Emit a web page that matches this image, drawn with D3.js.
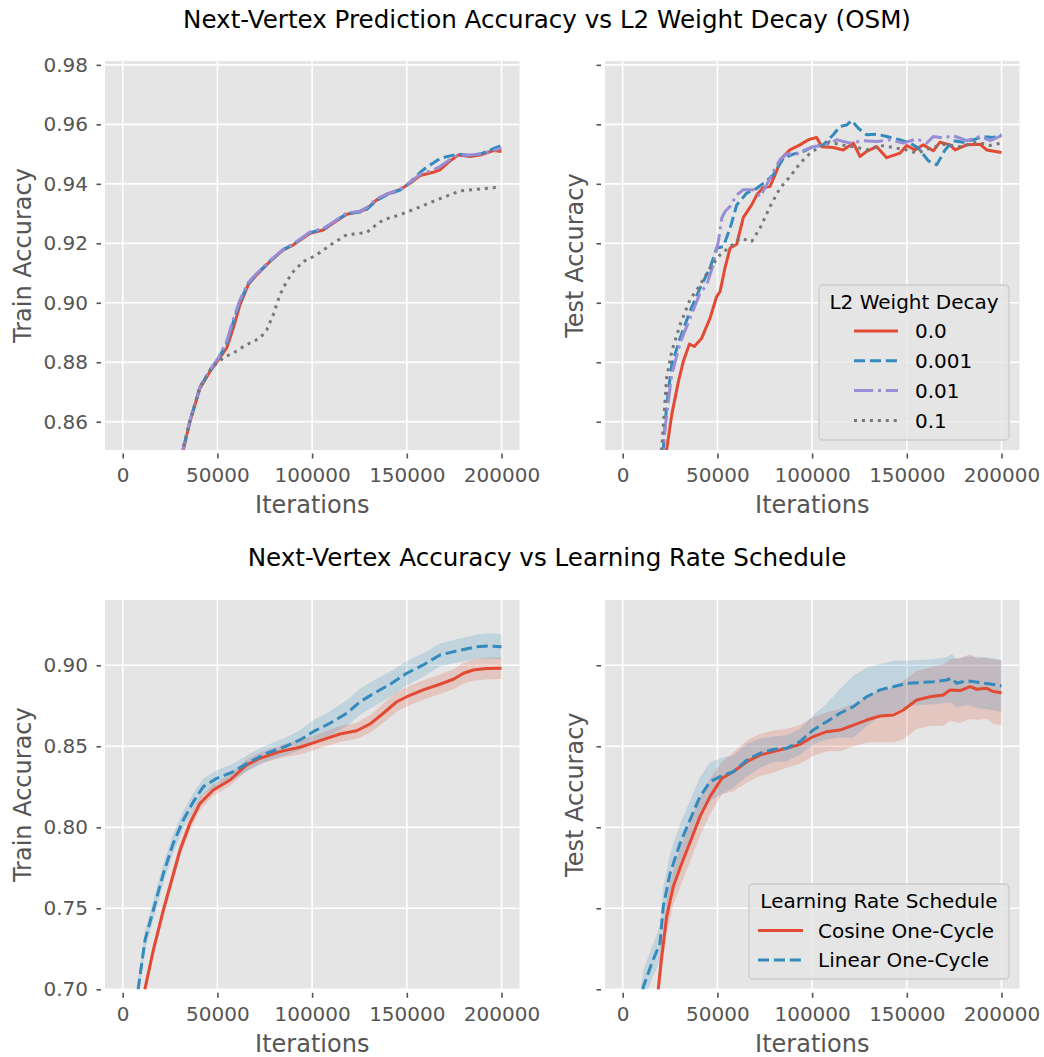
<!DOCTYPE html>
<html>
<head>
<meta charset="utf-8">
<script src="https://cdn.jsdelivr.net/npm/d3@7"></script>
<style>
  body { margin: 0; background: #fff; }
  svg { display: block; font-family: "DejaVu Sans", sans-serif; }
</style>
</head>
<body>
<svg id="chart" width="1044" height="1057"></svg>
<script>
// ---------- data ----------
const xTickValues = [0, 50000, 100000, 150000, 200000];
const topYTicks = [0.86, 0.88, 0.90, 0.92, 0.94, 0.96, 0.98];
const bottomYTicks = [0.70, 0.75, 0.80, 0.85, 0.90];

const weightDecayLabels = ["0.0", "0.001", "0.01", "0.1"];
const scheduleLabels = ["Cosine One-Cycle", "Linear One-Cycle"];

// Train accuracy per L2 weight decay: [iteration, accuracy]
const trainWd0 = [[30500,0.8460],[32000,0.8506],[35500,0.8600],[40800,0.8713],[46100,0.8769],[50500,0.8808],[54900,0.8848],[58400,0.8915],[61900,0.8993],[66300,0.9061],[70700,0.9094],[77800,0.9139],[84800,0.9178],[90100,0.9195],[98900,0.9234],[105900,0.9245],[111200,0.9268],[118300,0.9298],[125300,0.9307],[128800,0.9316],[134100,0.9346],[139400,0.9365],[146400,0.9380],[151700,0.9402],[157000,0.9428],[164000,0.9439],[167500,0.9447],[172800,0.9477],[177200,0.9497],[183400,0.9492],[188700,0.9497],[195700,0.9512],[200000,0.9509]];
const trainWd001 = [[30500,0.8465],[32000,0.8510],[35500,0.8602],[40800,0.8716],[46100,0.8772],[50500,0.8812],[54900,0.8862],[58400,0.8935],[61900,0.9003],[66300,0.9064],[70700,0.9096],[77800,0.9140],[84800,0.9179],[90100,0.9197],[98900,0.9236],[105900,0.9247],[111200,0.9270],[118300,0.9300],[125300,0.9305],[128800,0.9314],[134100,0.9344],[139400,0.9363],[146400,0.9379],[151700,0.9405],[157000,0.9438],[160500,0.9456],[164000,0.9470],[167500,0.9485],[172800,0.9494],[177200,0.9500],[183400,0.9495],[188700,0.9500],[195700,0.9518],[200000,0.9529]];
const trainWd01 = [[30500,0.8470],[32000,0.8515],[35500,0.8605],[40800,0.8718],[46100,0.8775],[50500,0.8815],[54900,0.8870],[58400,0.8945],[61900,0.9010],[66300,0.9068],[70700,0.9098],[77800,0.9142],[84800,0.9180],[90100,0.9198],[98900,0.9238],[105900,0.9250],[111200,0.9272],[118300,0.9302],[125300,0.9308],[128800,0.9320],[134100,0.9350],[139400,0.9365],[146400,0.9382],[151700,0.9405],[157000,0.9432],[164000,0.9447],[167500,0.9458],[172800,0.9482],[177200,0.9497],[183400,0.9497],[188700,0.9500],[195700,0.9512],[200000,0.9520]];
const trainWd1 = [[30500,0.8465],[32000,0.8510],[35500,0.8602],[40800,0.8716],[46100,0.8772],[50000,0.8800],[54000,0.8818],[58400,0.8831],[63000,0.8850],[67200,0.8865],[72500,0.8881],[76000,0.8909],[79500,0.8960],[83000,0.9027],[86600,0.9072],[90100,0.9105],[95400,0.9139],[102400,0.9161],[106500,0.9180],[111200,0.9201],[118300,0.9229],[123000,0.9232],[128800,0.9236],[133000,0.9258],[137600,0.9279],[146400,0.9296],[155200,0.9318],[164000,0.9341],[172800,0.9363],[178100,0.9376],[184300,0.9380],[191000,0.9384],[199300,0.9389]];

// Test accuracy per L2 weight decay: [iteration, accuracy]
const testWd0 = [[22400,0.8450],[23200,0.8506],[25900,0.8624],[29400,0.8735],[32000,0.8803],[35200,0.8861],[37800,0.8853],[41700,0.8881],[46100,0.8948],[49600,0.9021],[51400,0.9038],[54000,0.9117],[56700,0.9184],[60200,0.9197],[63700,0.9287],[68100,0.9329],[70800,0.9363],[74200,0.9388],[77800,0.9391],[80400,0.9430],[83900,0.9486],[88300,0.9514],[93600,0.9531],[98000,0.9548],[102400,0.9556],[105100,0.9525],[111200,0.9522],[116500,0.9514],[121800,0.9537],[125300,0.9492],[128800,0.9509],[134100,0.9525],[139400,0.9488],[146400,0.9503],[149900,0.9529],[154300,0.9514],[158700,0.9531],[164000,0.9511],[167500,0.9540],[172800,0.9531],[175500,0.9514],[181600,0.9531],[188700,0.9533],[192200,0.9514],[200000,0.9505]];
const testWd001 = [[20800,0.8450],[21400,0.8506],[23200,0.8657],[25900,0.8792],[30300,0.8881],[35500,0.8971],[40800,0.9049],[46100,0.9117],[49600,0.9184],[53100,0.9189],[56700,0.9251],[60200,0.9329],[65500,0.9369],[70800,0.9385],[76000,0.9410],[79500,0.9430],[84800,0.9486],[90100,0.9500],[95400,0.9509],[100600,0.9525],[105900,0.9531],[111200,0.9565],[114700,0.9593],[118300,0.9598],[120900,0.9613],[124400,0.9587],[128800,0.9565],[134100,0.9567],[139400,0.9559],[146400,0.9548],[151700,0.9537],[156100,0.9520],[161400,0.9477],[165800,0.9464],[170200,0.9514],[174500,0.9545],[179800,0.9540],[185100,0.9548],[190400,0.9559],[195700,0.9556],[200000,0.9565]];
const testWd01 = [[20500,0.8450],[21100,0.8506],[23200,0.8624],[25900,0.8759],[30300,0.8864],[35500,0.8948],[40800,0.9032],[44400,0.9061],[47800,0.9128],[50500,0.9206],[52300,0.9285],[54000,0.9307],[56700,0.9324],[60200,0.9363],[63700,0.9380],[69000,0.9380],[72500,0.9357],[76000,0.9397],[79500,0.9441],[83000,0.9481],[86600,0.9500],[91800,0.9500],[96300,0.9514],[100600,0.9525],[107600,0.9531],[113000,0.9548],[120000,0.9537],[127100,0.9545],[134100,0.9542],[141100,0.9548],[148100,0.9537],[155200,0.9551],[160500,0.9537],[164000,0.9559],[169300,0.9554],[174500,0.9562],[181600,0.9545],[188700,0.9559],[194000,0.9545],[200000,0.9562]];
const testWd1 = [[20000,0.8450],[20500,0.8506],[23200,0.8748],[25900,0.8837],[30300,0.8926],[35500,0.9010],[40800,0.9060],[46100,0.9117],[51400,0.9161],[56700,0.9189],[62000,0.9217],[68100,0.9206],[72500,0.9251],[77800,0.9324],[83000,0.9385],[88300,0.9424],[93600,0.9469],[98900,0.9503],[104200,0.9525],[109400,0.9542],[114700,0.9531],[121800,0.9525],[128800,0.9514],[135900,0.9529],[142900,0.9522],[149900,0.9514],[155200,0.9503],[162300,0.9520],[169300,0.9533],[178100,0.9525],[186900,0.9540],[193900,0.9529],[200000,0.9537]];

// Learning-rate schedules: [iteration, mean accuracy, spread]
const trainCosine = [[10800,0.6900,0.0040],[11800,0.7006,0.0040],[16200,0.7243,0.0040],[21500,0.7490,0.0045],[25900,0.7675,0.0045],[30300,0.7860,0.0045],[35500,0.8025,0.0045],[40800,0.8148,0.0040],[47800,0.8230,0.0035],[56700,0.8292,0.0035],[65500,0.8385,0.0035],[72500,0.8426,0.0035],[83000,0.8467,0.0040],[93600,0.8494,0.0045],[104200,0.8535,0.0045],[114700,0.8576,0.0050],[123500,0.8596,0.0050],[130700,0.8638,0.0055],[137600,0.8704,0.0060],[144700,0.8775,0.0060],[150000,0.8806,0.0060],[158700,0.8848,0.0060],[167500,0.8883,0.0060],[174600,0.8914,0.0062],[179900,0.8951,0.0065],[185100,0.8971,0.0066],[192200,0.8980,0.0067],[200000,0.8982,0.0067]];
const trainLinear = [[7300,0.6900,0.0060],[8200,0.7006,0.0060],[11800,0.7305,0.0060],[16200,0.7490,0.0060],[21500,0.7716,0.0060],[26700,0.7901,0.0060],[32000,0.8045,0.0055],[37300,0.8158,0.0055],[42600,0.8251,0.0050],[49600,0.8302,0.0050],[58400,0.8343,0.0050],[67200,0.8405,0.0050],[76000,0.8457,0.0050],[86600,0.8502,0.0055],[93600,0.8539,0.0060],[100600,0.8590,0.0070],[109400,0.8642,0.0075],[118300,0.8704,0.0080],[125300,0.8775,0.0080],[134100,0.8837,0.0080],[141200,0.8883,0.0078],[150000,0.8951,0.0075],[158700,0.9002,0.0072],[167500,0.9064,0.0070],[176300,0.9088,0.0072],[186900,0.9115,0.0075],[193900,0.9119,0.0078],[200000,0.9115,0.0078]];
const testCosine = [[18300,0.6900,0.010],[18800,0.7006,0.010],[20600,0.7202,0.010],[23200,0.7449,0.011],[26700,0.7634,0.011],[31200,0.7778,0.012],[36400,0.7932,0.012],[40800,0.8066,0.012],[46100,0.8189,0.011],[52300,0.8302,0.010],[58400,0.8343,0.012],[65500,0.8405,0.013],[72500,0.8446,0.013],[79500,0.8467,0.013],[86600,0.8488,0.012],[93600,0.8512,0.012],[100600,0.8560,0.012],[107700,0.8590,0.012],[114700,0.8600,0.013],[121800,0.8631,0.013],[128800,0.8662,0.014],[135900,0.8687,0.016],[142900,0.8693,0.017],[148200,0.8724,0.018],[155200,0.8786,0.018],[162300,0.8806,0.018],[169300,0.8817,0.019],[172800,0.8848,0.019],[178100,0.8844,0.020],[183400,0.8868,0.020],[186900,0.8852,0.019],[192200,0.8858,0.019],[195700,0.8838,0.020],[200000,0.8831,0.020]];
const testLinear = [[9500,0.6900,0.010],[10900,0.7016,0.010],[15300,0.7160,0.010],[19700,0.7284,0.011],[21400,0.7510,0.012],[25000,0.7716,0.012],[30300,0.7901,0.012],[35500,0.8045,0.012],[40800,0.8189,0.012],[46100,0.8281,0.012],[53100,0.8322,0.011],[58400,0.8343,0.010],[65500,0.8415,0.010],[72500,0.8457,0.009],[79500,0.8481,0.008],[86600,0.8488,0.008],[93600,0.8529,0.008],[100600,0.8601,0.009],[107700,0.8652,0.011],[114700,0.8704,0.015],[121800,0.8745,0.019],[128800,0.8806,0.018],[135900,0.8848,0.016],[142900,0.8868,0.016],[149900,0.8889,0.014],[157000,0.8893,0.014],[164000,0.8899,0.014],[171000,0.8909,0.014],[173700,0.8920,0.015],[176300,0.8889,0.015],[181600,0.8905,0.015],[188700,0.8893,0.016],[194000,0.8885,0.016],[200000,0.8872,0.016]];

// ---------- styles ----------
const RED = "#E24A33", BLUE = "#348ABD", PURPLE = "#988ED5", GRAY = "#777777";
const LW = 3;
const DASH = { solid: null, dashed: "11.1,4.8", dashdot: "19.2,4.8,3,4.8", dotted: "3,4.95" };

const svg = d3.select("#chart");
const defs = svg.append("defs");

const xDomain = [-9350, 209500];
const topYDomain = [0.8505, 0.9813];
const bottomYDomain = [0.70, 0.9403];

function panel(id, x0, x1, y0, y1, yDomain, yTicks, showYLabels, yLabelText, yLabelX) {
  const x = d3.scaleLinear().domain(xDomain).range([x0, x1]);
  const y = d3.scaleLinear().domain(yDomain).range([y1, y0]);
  const g = svg.append("g");

  g.append("rect").attr("x", x0).attr("y", y0).attr("width", x1 - x0).attr("height", y1 - y0)
    .attr("fill", "#E5E5E5");

  // grid
  g.append("g").selectAll("line").data(xTickValues).join("line")
    .attr("x1", d => x(d)).attr("x2", d => x(d)).attr("y1", y0).attr("y2", y1)
    .attr("stroke", "#fff").attr("stroke-width", 1.6);
  g.append("g").selectAll("line").data(yTicks).join("line")
    .attr("x1", x0).attr("x2", x1).attr("y1", d => y(d)).attr("y2", d => y(d))
    .attr("stroke", "#fff").attr("stroke-width", 1.6);

  // axes
  const xAxis = g.append("g").attr("transform", `translate(0,${y1 + 3.5})`)
    .call(d3.axisBottom(x).tickValues(xTickValues).tickFormat(d3.format("d")).tickSize(5).tickPadding(9));
  const yAxis = g.append("g").attr("transform", `translate(${x0 - 4},0)`)
    .call(d3.axisLeft(y).tickValues(yTicks).tickFormat(showYLabels ? d3.format(".2f") : () => "").tickSize(4.5).tickPadding(8.5));
  [xAxis, yAxis].forEach(a => {
    a.select(".domain").remove();
    a.selectAll("line").attr("stroke", "#555").attr("stroke-width", 1.6);
    a.selectAll("text").attr("fill", "#555").style("font-size", "20px").style("font-family", "DejaVu Sans, sans-serif");
  });

  // axis labels
  g.append("text").attr("x", (x0 + x1) / 2).attr("y", y1 + 63).attr("text-anchor", "middle")
    .attr("fill", "#555").style("font-size", "24px").text("Iterations");
  g.append("text").attr("transform", `translate(${yLabelX},${(y0 + y1) / 2}) rotate(-90)`)
    .attr("text-anchor", "middle").attr("fill", "#555").style("font-size", "24px").text(yLabelText);

  defs.append("clipPath").attr("id", id).append("rect")
    .attr("x", x0).attr("y", y0).attr("width", x1 - x0).attr("height", y1 - y0);
  const plot = g.append("g").attr("clip-path", `url(#${id})`);
  return { x, y, plot, g };
}

function drawLine(p, data, color, dash) {
  const line = d3.line().x(d => p.x(d[0])).y(d => p.y(d[1]));
  p.plot.append("path").datum(data).attr("d", line)
    .attr("fill", "none").attr("stroke", color).attr("stroke-width", LW)
    .attr("stroke-linejoin", "round")
    .attr("stroke-dasharray", dash);
}

function drawBand(p, data, color) {
  const area = d3.area().x(d => p.x(d[0])).y0(d => p.y(d[1] - d[2])).y1(d => p.y(d[1] + d[2]));
  p.plot.append("path").datum(data).attr("d", area)
    .attr("fill", color).attr("fill-opacity", 0.2).attr("stroke", "none");
}

function legend(x, y, w, h, title, titleBaseline, entries, handleX0, handleX1, textX, firstBaseline, step) {
  const g = svg.append("g");
  g.append("rect").attr("x", x).attr("y", y).attr("width", w).attr("height", h).attr("rx", 4)
    .attr("fill", "#E5E5E5").attr("fill-opacity", 0.8).attr("stroke", "#CCCCCC").attr("stroke-width", 1.3);
  g.append("text").attr("x", x + w / 2).attr("y", titleBaseline).attr("text-anchor", "middle")
    .attr("fill", "#000").style("font-size", "20px").text(title);
  entries.forEach((e, i) => {
    const b = firstBaseline + i * step;
    g.append("line").attr("x1", handleX0).attr("x2", handleX1).attr("y1", b - 7.3).attr("y2", b - 7.3)
      .attr("stroke", e.color).attr("stroke-width", LW).attr("stroke-dasharray", e.dash);
    g.append("text").attr("x", textX).attr("y", b).attr("fill", "#000").style("font-size", "20px").text(e.label);
  });
}

// ---------- titles ----------
svg.append("text").attr("x", 547).attr("y", 27.5).attr("text-anchor", "middle").attr("fill", "#000")
  .style("font-size", "24.6px").text("Next-Vertex Prediction Accuracy vs L2 Weight Decay (OSM)");
svg.append("text").attr("x", 547).attr("y", 566).attr("text-anchor", "middle").attr("fill", "#000")
  .style("font-size", "24.6px").text("Next-Vertex Accuracy vs Learning Rate Schedule");

// ---------- weight decay panels ----------
const wdStyles = [
  { color: RED, dash: DASH.solid },
  { color: BLUE, dash: DASH.dashed },
  { color: PURPLE, dash: DASH.dashdot },
  { color: GRAY, dash: DASH.dotted }
];

const tl = panel("clipTL", 105, 519.5, 61, 450, topYDomain, topYTicks, true, "Train Accuracy", 30.5);
[trainWd0, trainWd001, trainWd01, trainWd1].forEach((s, i) => drawLine(tl, s, wdStyles[i].color, wdStyles[i].dash));

const tr = panel("clipTR", 605, 1019.5, 61, 450, topYDomain, topYTicks, false, "Test Accuracy", 582.5);
[testWd0, testWd001, testWd01, testWd1].forEach((s, i) => drawLine(tr, s, wdStyles[i].color, wdStyles[i].dash));

legend(819, 285, 190, 155, "L2 Weight Decay", 309.3,
  weightDecayLabels.map((l, i) => ({ label: l, color: wdStyles[i].color, dash: wdStyles[i].dash })),
  854, 898, 915, 338.3, 29.8);

// ---------- learning-rate schedule panels ----------
const schedStyles = [
  { color: RED, dash: DASH.solid },
  { color: BLUE, dash: DASH.dashed }
];

const bl = panel("clipBL", 105, 519.5, 600, 989.3, bottomYDomain, bottomYTicks, true, "Train Accuracy", 30.5);
drawBand(bl, trainCosine, RED);
drawBand(bl, trainLinear, BLUE);
drawLine(bl, trainCosine, RED, DASH.solid);
drawLine(bl, trainLinear, BLUE, DASH.dashed);

const br = panel("clipBR", 605, 1019.5, 600, 989.3, bottomYDomain, bottomYTicks, false, "Test Accuracy", 582.5);
drawBand(br, testCosine, RED);
drawBand(br, testLinear, BLUE);
drawLine(br, testCosine, RED, DASH.solid);
drawLine(br, testLinear, BLUE, DASH.dashed);

legend(749, 884, 260, 95, "Learning Rate Schedule", 908.3,
  scheduleLabels.map((l, i) => ({ label: l, color: schedStyles[i].color, dash: schedStyles[i].dash })),
  758, 803, 818, 937.7, 29.6);
</script>
</body>
</html>
